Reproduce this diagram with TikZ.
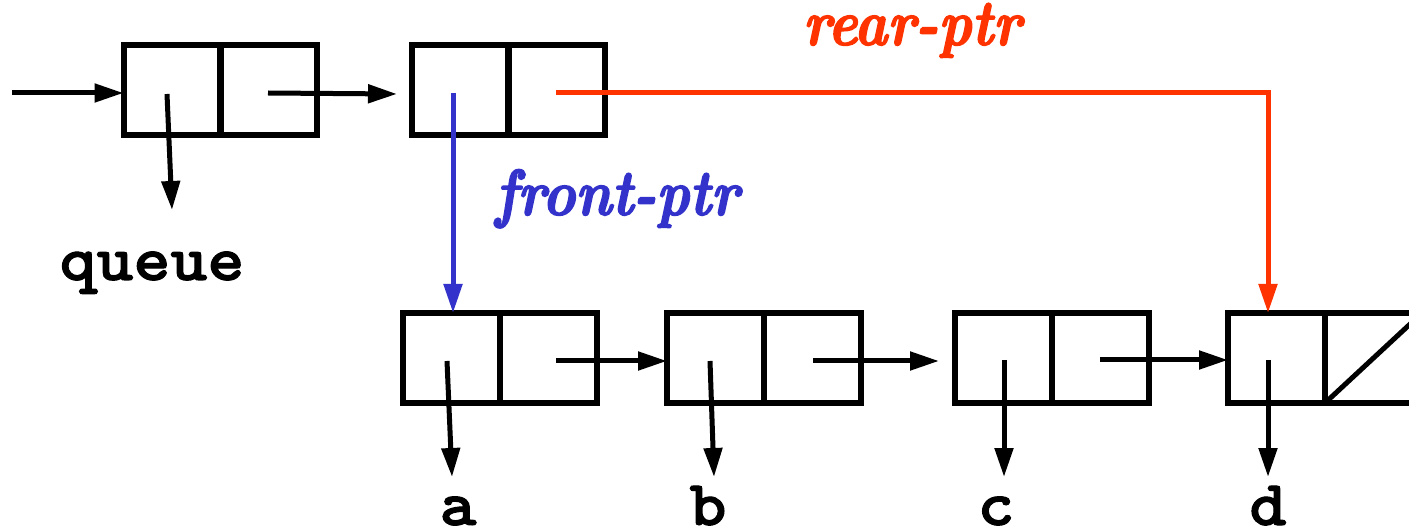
\documentclass[tikz,border=0pt]{standalone}
\usepackage{fontspec}
\newfontfamily\ptrfont{lmroman10-bolditalic}[Extension=.otf,FakeStretch=0.86,FakeBold=2.2]
\newfontfamily\symfont{Latin Modern Mono Light}[FakeStretch=1.1,FakeBold=1.6]
\usetikzlibrary{arrows.meta}
\definecolor{ptrblue}{RGB}{51,51,204}
\definecolor{ptrred}{RGB}{255,51,0}
\begin{document}
\begin{tikzpicture}[x=1pt,y=-1pt,
  cell/.style={draw,line width=6pt,minimum width=97pt,minimum height=90pt,inner sep=0pt,outer sep=0pt},
  ptr/.style={line width=5pt,-{Triangle[length=29pt,width=18pt]}},
  lab/.style={font=\ptrfont\fontsize{65}{65}\selectfont,anchor=base,inner sep=0pt},
  sym/.style={font=\symfont\fontsize{64}{64}\selectfont\bfseries,anchor=base,inner sep=0pt}]
\clip (0,0) rectangle (1409,529);
\node[cell] (qcar) at (172,90) {};
\node[cell] (qcdr) at (268,90) {};
\node[cell] (hcar) at (460,90) {};
\node[cell] (hcdr) at (556,90) {};
\node[cell] (acar) at (451.5,358) {};
\node[cell] (acdr) at (548.5,358) {};
\node[cell] (bcar) at (715.5,358) {};
\node[cell] (bcdr) at (812.5,358) {};
\node[cell] (ccar) at (1003.5,358) {};
\node[cell] (ccdr) at (1100.5,358) {};
\node[cell] (dcar) at (1276.5,358) {};
\node[cell] (dcdr) at (1373.5,358) {};
\node[lab,text=ptrred] (rear) at (912,45) {rear-ptr};
\node[lab,text=ptrblue] (front) at (617,215) {front-ptr};
\node[sym] (queue) at (152,280) {queue};
\node[sym] (la) at (458,525) {a};
\node[sym] (lb) at (708,525) {b};
\node[sym] (lc) at (996,525) {c};
\node[sym] (ld) at (1268,525) {d};
\coordinate (in) at (12,93);
\coordinate (qcarp) at (167,94);
\coordinate (qcdrp) at (268,93);
\coordinate (hcarp) at (453,93);
\coordinate (hcdrp) at (556,93);
\coordinate (acarp) at (447,361);
\coordinate (acdrp) at (556,361);
\coordinate (bcarp) at (710,361);
\coordinate (bcdrp) at (813,361);
\coordinate (ccarp) at (1004,360);
\coordinate (ccdrp) at (1100,360);
\coordinate (dcarp) at (1268,360);
\coordinate (qdown) at (172,210);
\coordinate (qnext) at (397,94);
\coordinate (aend) at (452,477);
\coordinate (bend) at (714,477);
\coordinate (cend) at (1004,477);
\coordinate (dend) at (1268,477);
\coordinate (bnext) at (939,361);
\coordinate (rearcorner) at (1268,93);
\draw[ptr] (in) -- (in -| qcar.west);
\draw[ptr] (qcarp) -- (qdown);
\draw[ptr] (qcdrp) -- (qnext);
\draw[ptr,ptrblue] (hcarp) -- (hcarp |- acar.north);
\draw[ptr,ptrred] (hcdrp) -- (rearcorner) -- (rearcorner |- dcar.north);
\draw[ptr] (acarp) -- (aend);
\draw[ptr] (acdrp) -- (acdrp -| bcar.west);
\draw[ptr] (bcarp) -- (bend);
\draw[ptr] (bcdrp) -- (bnext);
\draw[ptr] (ccarp) -- (cend);
\draw[ptr] (ccdrp) -- (ccdrp -| dcar.west);
\draw[ptr] (dcarp) -- (dend);
\draw[line width=5pt] (dcdr.south west) -- (dcdr.north east);
\end{tikzpicture}
\end{document}
